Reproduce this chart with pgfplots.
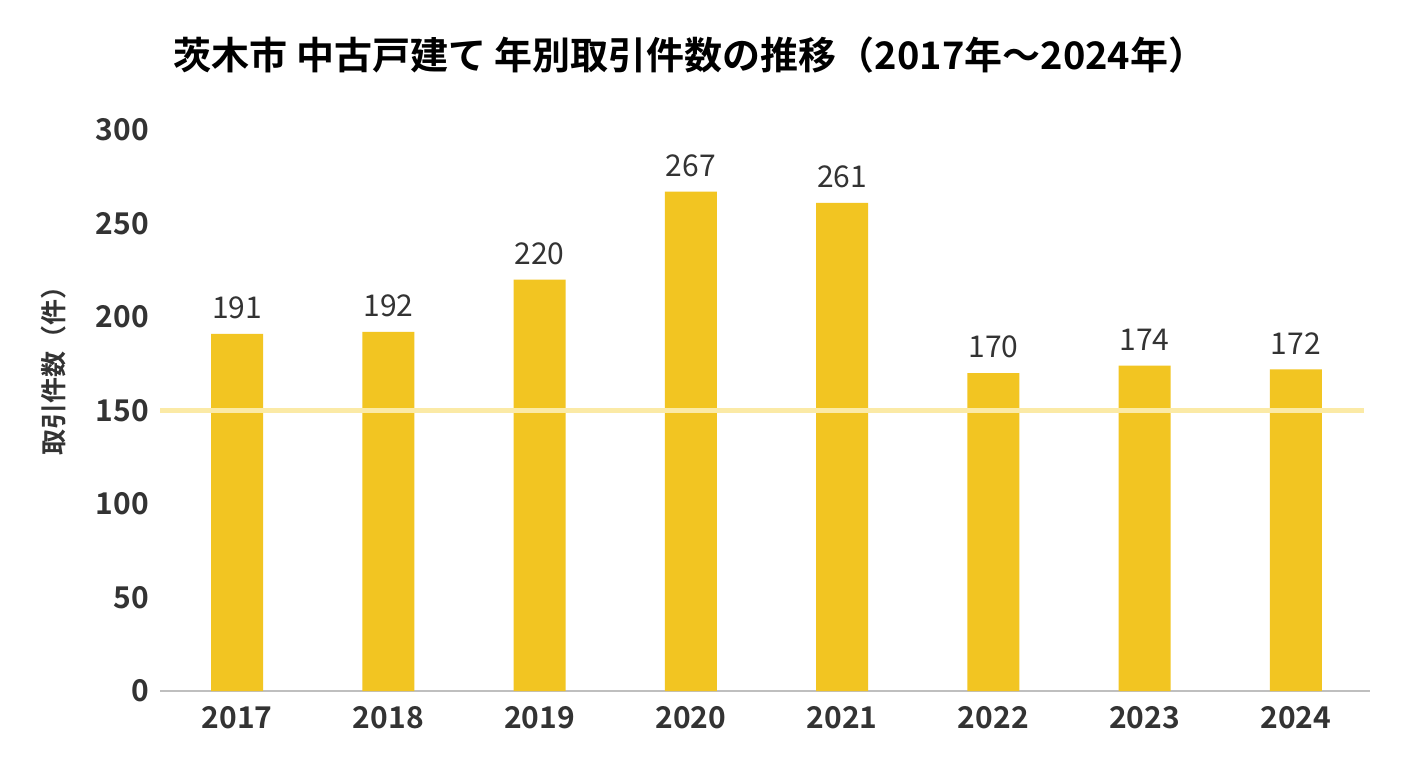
\documentclass[border=0pt]{standalone}
\usepackage{pgfplots}
\pgfplotsset{compat=1.18}
\usepackage{fontspec}
\setmainfont{Noto Sans CJK JP}
\newfontfamily\jpbold{Noto Sans CJK JP Bold}
\definecolor{bar}{HTML}{F2C522}
\definecolor{ref}{HTML}{FBEAA6}
\definecolor{txt}{HTML}{333333}
\begin{document}
\begin{tikzpicture}
\path[use as bounding box,fill=white] (0,0) rectangle (704pt,384pt);
\begin{axis}[
  at={(80pt,38.5pt)}, anchor=south west,
  scale only axis, width=605pt, height=280.5pt,
  xmin=-0.51, xmax=7.49, ymin=0, ymax=300,
  axis x line*=bottom, axis y line*=left,
  x axis line style={draw=gray!50, line width=0.8pt, -},
  y axis line style={draw=none},
  xtick={0,...,7},
  xticklabels={2017,2018,2019,2020,2021,2022,2023,2024},
  ytick={0,50,...,300},
  tick style={draw=none},
  /pgf/number format/assume math mode=true,
  ticklabel style={font=\fontsize{15}{17}\selectfont\jpbold, text=txt},
  xticklabel style={yshift=-4pt},
  yticklabel style={xshift=-2pt},
  clip=false,
]
\addplot[ybar, bar width=26pt, fill=bar, draw=none,
  nodes near coords, nodes near coords style={font=\fontsize{15}{17}\selectfont, text=txt, yshift=4pt}]
  coordinates {(0,191)(1,192)(2,220)(3,267)(4,261)(5,170)(6,174)(7,172)};
\addplot[ref, line width=2.5pt] coordinates {(-0.51,150)(7.45,150)};
\end{axis}
\node[rotate=90, font=\fontsize{13}{15}\selectfont\jpbold, text=txt] at (27pt,202pt) {取引件数（件）};
\node[font=\fontsize{19}{22}\selectfont\jpbold, text=black] at (345pt,356.5pt) {茨木市 中古戸建て 年別取引件数の推移（2017年〜2024年）};
\end{tikzpicture}
\end{document}
